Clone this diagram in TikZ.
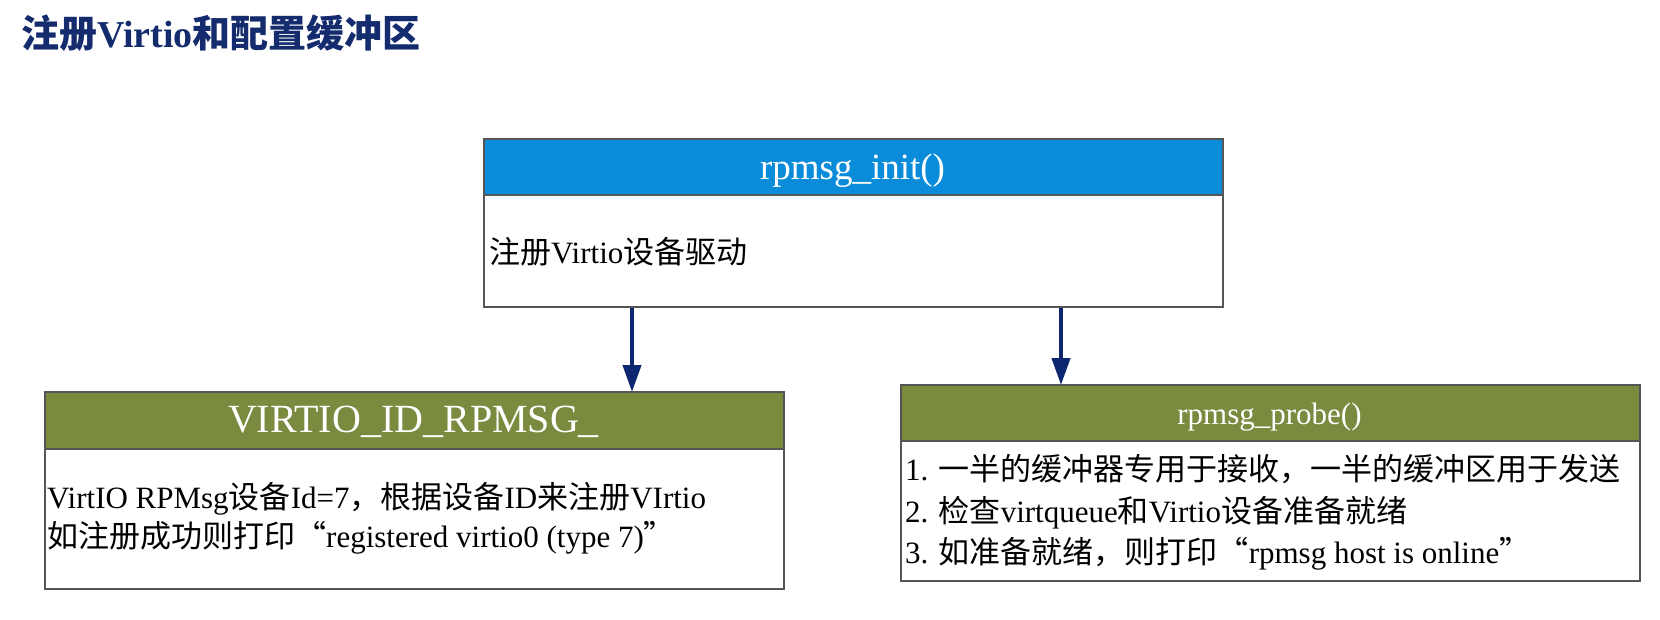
\documentclass[tikz,border=0pt]{standalone}
\usepackage{fontspec}
\setmainfont{Liberation Serif}
\newfontfamily\cjk{Noto Sans CJK SC}
\newcommand\zhs[1]{{\cjk #1}}
\usetikzlibrary{arrows.meta}
\definecolor{hblue}{RGB}{10,140,218}
\definecolor{hgreen}{RGB}{122,138,62}
\definecolor{navy}{RGB}{12,38,112}
\definecolor{titlenavy}{RGB}{20,44,110}
\definecolor{edge}{RGB}{85,85,85}
\tikzset{
  boxframe/.style={draw=edge, line width=2pt, fill=white, rectangle, anchor=north west, inner sep=0pt},
  hdr/.style={draw=edge, line width=2pt, rectangle, anchor=north west, inner sep=0pt},
  hdrtext/.style={text=white, inner sep=0pt, anchor=base},
  bodytext/.style={text=black, inner sep=0pt, anchor=base west, font=\fontsize{31}{36}\selectfont},
  arr/.style={draw=navy, line width=4pt, -{Triangle[length=27pt,width=18pt]}, shorten >=-1pt}
}
\begin{document}
\begin{tikzpicture}[x=1pt,y=-1pt]
\useasboundingbox[fill=white] (0,0) rectangle (1660,620);
% title
\node[anchor=base west, inner sep=0pt, text=titlenavy, font=\fontsize{38}{40}\selectfont\bfseries] (title) at (21,48) {\zhs{注册}Virtio\zhs{和配置缓冲区}};
% top box
\node[boxframe, minimum width=739pt, minimum height=168pt] (init) at (483,138) {};
\node[hdr, fill=hblue, minimum width=739pt, minimum height=56pt] (inithdr) at (483,138) {};
\node[hdrtext, font=\fontsize{37}{40}\selectfont] (initt) at (852.5,180) {rpmsg\_init()};
\node[bodytext] (initb) at (489,264) {\zhs{注册}Virtio\zhs{设备驱动}};
% left box
\node[boxframe, minimum width=739pt, minimum height=197pt] (virt) at (44,391) {};
\node[hdr, fill=hgreen, minimum width=739pt, minimum height=57pt] (virthdr) at (44,391) {};
\node[hdrtext, font=\fontsize{40}{44}\selectfont] (virtt) at (413.5,432) {VIRTIO\_ID\_RPMSG\_};
\node[bodytext] (virtb1) at (47,508) {VirtIO RPMsg\zhs{设备}Id=7\zhs{，根据设备}ID\zhs{来注册}VIrtio};
\node[bodytext] (virtb2) at (47,547) {\zhs{如注册成功则打印“}registered virtio0 (type 7)\zhs{”}};
% right box
\node[boxframe, minimum width=739pt, minimum height=196pt] (probe) at (900,384) {};
\node[hdr, fill=hgreen, minimum width=739pt, minimum height=56pt] (probehdr) at (900,384) {};
\node[hdrtext, font=\fontsize{31}{34}\selectfont] (probet) at (1269.5,424) {rpmsg\_probe()};
\node[bodytext] (probeb1) at (905,480) {1. \zhs{一半的缓冲器专用于接收，一半的缓冲区用于发送}};
\node[bodytext] (probeb2) at (905,522) {2. \zhs{检查}virtqueue\zhs{和}Virtio\zhs{设备准备就绪}};
\node[bodytext] (probeb3) at (905,563) {3. \zhs{如准备就绪，则打印“}rpmsg host is online\zhs{”}};
% arrows
\coordinate (ca) at (632,0);
\coordinate (cb) at (1061,0);
\draw[arr] (init.south -| ca) -- (virthdr.north -| ca);
\draw[arr] (init.south -| cb) -- (probehdr.north -| cb);
\end{tikzpicture}
\end{document}
